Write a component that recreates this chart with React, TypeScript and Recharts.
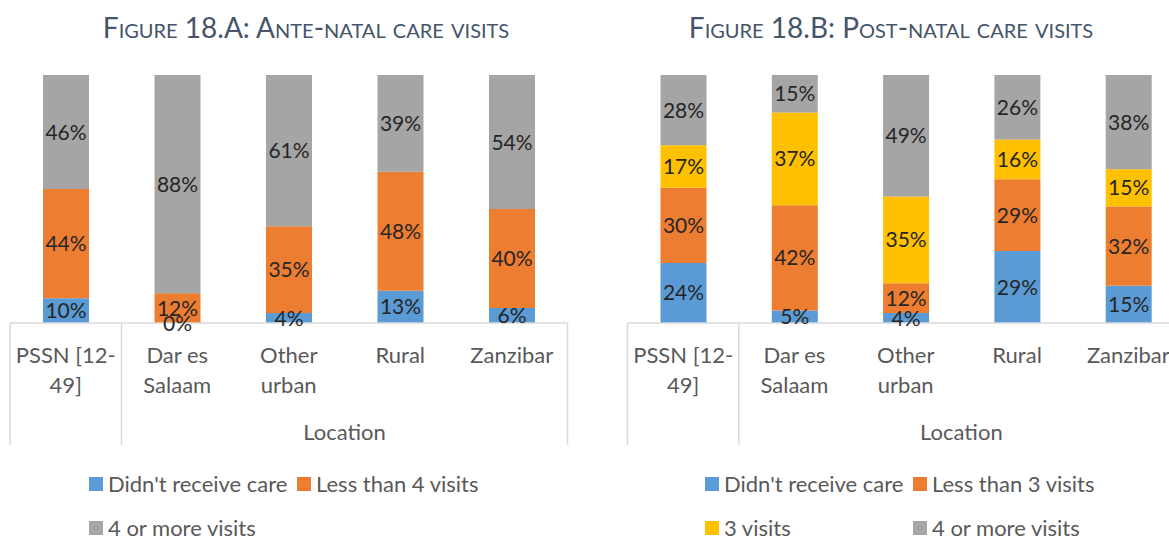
import { BarChart, Bar, XAxis, YAxis, LabelList } from 'recharts';

const locations = ['PSSN [12-\n49]', 'Dar es\nSalaam', 'Other\nurban', 'Rural', 'Zanzibar'];

// Figure 18.A - ante-natal
const ancNoCare = [10, 0, 4, 13, 6];
const ancUnder4 = [44, 12, 35, 48, 40];
const anc4Plus = [46, 88, 61, 39, 54];

// Figure 18.B - post-natal
const pncNoCare = [24, 5, 4, 29, 15];
const pncUnder3 = [30, 42, 12, 29, 32];
const pnc3 = [17, 37, 35, 16, 15];
const pnc4Plus = [28, 15, 49, 26, 38];

const BLUE = '#5B9BD5';
const ORANGE = '#ED7D31';
const YELLOW = '#FFC000';
const GREY = '#A5A5A5';
const FONT = 'Lato, "Open Sans", sans-serif';
const LABEL_COLOR = '#262626';

const ancData = locations.map((loc, i) => ({
    loc, none: ancNoCare[i], under: ancUnder4[i], plus: anc4Plus[i]
}));
const pncData = locations.map((loc, i) => ({
    loc, none: pncNoCare[i], under: pncUnder3[i], three: pnc3[i], plus: pnc4Plus[i]
}));

type Series = { key: string; name: string; color: string };

const ancSeries: Series[] = [
    { key: 'none', name: "Didn't receive care", color: BLUE },
    { key: 'under', name: 'Less than 4 visits', color: ORANGE },
    { key: 'plus', name: '4 or more visits', color: GREY },
];
const pncSeries: Series[] = [
    { key: 'none', name: "Didn't receive care", color: BLUE },
    { key: 'under', name: 'Less than 3 visits', color: ORANGE },
    { key: 'three', name: '3 visits', color: YELLOW },
    { key: 'plus', name: '4 or more visits', color: GREY },
];

const LocationTick = (props: any) => {
    const { x, y, payload, index, band, count } = props;
    const lines = String(payload.value).split('\n');
    const h = 122;
    const stroke = '#D9D9D9';
    return (
        <g>
            {lines.map((l: string, k: number) => (
                <text key={k} x={x} y={y + 40 + k * 30} textAnchor="middle"
                    fill="#595959" fontSize={22} fontFamily={FONT}>{l}</text>
            ))}
            {index === 0 && (
                <>
                    <line x1={x - band / 2} x2={x - band / 2} y1={y} y2={y + h} stroke={stroke} strokeWidth={1.5} />
                    <line x1={x + band / 2} x2={x + band / 2} y1={y} y2={y + h} stroke={stroke} strokeWidth={1.5} />
                    <text x={x + band * 2.5} y={y + 117} textAnchor="middle"
                        fill="#595959" fontSize={22} fontFamily={FONT}>Location</text>
                </>
            )}
            {index === count - 1 && (
                <line x1={x + band / 2} x2={x + band / 2} y1={y} y2={y + h} stroke={stroke} strokeWidth={1.5} />
            )}
        </g>
    );
};

// label for a segment; the segment above the base also shows a 0% base value
// (zero-height bars get no label of their own)
const SegmentLabel = (props: any) => {
    const { x, y, width, height, value, index, data, showZeroBelow } = props;
    const cx = x + width / 2;
    const zero = showZeroBelow && data[index] && data[index].none === 0;
    return (
        <g>
            <text x={cx} y={y + height / 2} dy="0.36em" textAnchor="middle"
                fill={LABEL_COLOR} fontSize={21} fontFamily={FONT}>{`${value}%`}</text>
            {zero && (
                <text x={cx} y={y + height} dy="0.36em" textAnchor="middle"
                    fill={LABEL_COLOR} fontSize={21} fontFamily={FONT}>{`${data[index].none}%`}</text>
            )}
        </g>
    );
};

interface StackProps {
    data: any[];
    series: Series[];
    width: number;
    left: number;
    right: number;
}

const StackChart = ({ data, series, width, left, right }: StackProps) => {
    const band = (width - left - right) / data.length;
    return (
        <BarChart width={width} height={538} data={data} stackOffset="expand"
            margin={{ top: 75, right, left, bottom: 185 }} barSize={46}>
            <XAxis dataKey="loc" interval={0} tickLine={false} tickSize={0} tickMargin={0} height={30}
                axisLine={{ stroke: '#D9D9D9', strokeWidth: 1.5 }}
                tick={(p: any) => <LocationTick {...p} band={band} count={data.length} />} />
            <YAxis hide domain={[0, 1]} />
            {series.map((s) => (
                <Bar key={s.key} dataKey={s.key} name={s.name} stackId="a" fill={s.color} isAnimationActive={false}>
                    <LabelList dataKey={s.key}
                        content={(p: any) => <SegmentLabel {...p} data={data} showZeroBelow={s.key === 'under'} />} />
                </Bar>
            ))}
        </BarChart>
    );
};

const LegendItem = ({ x, y, s }: { x: number; y: number; s: Series }) => (
    <div style={{ position: 'absolute', left: x, top: y - 10, height: 20, display: 'flex', alignItems: 'center' }}>
        <div style={{ width: 14, height: 14, background: s.color, marginRight: 5 }} />
        <span style={{ fontSize: 22, lineHeight: '20px', color: '#595959', whiteSpace: 'nowrap' }}>{s.name}</span>
    </div>
);

const Title = ({ cx, text }: { cx: number; text: string }) => (
    <div style={{
        position: 'absolute', left: cx - 300, width: 600, top: 9, textAlign: 'center',
        fontVariant: 'small-caps', fontSize: 28, lineHeight: '36px', color: '#44546A', whiteSpace: 'nowrap'
    }}>{text}</div>
);

export default function App() {
    return (
        <div style={{
            position: 'fixed', left: 0, top: 0, width: 1169, height: 538, overflow: 'hidden',
            background: '#fff', fontFamily: FONT
        }}>
            <div style={{ position: 'absolute', left: 0, top: 0 }}>
                <StackChart data={ancData} series={ancSeries} width={600} left={10} right={32.5} />
            </div>
            <div style={{ position: 'absolute', left: 600, top: 0 }}>
                <StackChart data={pncData} series={pncSeries} width={600} left={27.5} right={16} />
            </div>
            <Title cx={306} text="Figure 18.A: Ante-natal care visits" />
            <Title cx={891} text="Figure 18.B: Post-natal care visits" />
            <LegendItem x={89} y={484} s={ancSeries[0]} />
            <LegendItem x={297} y={484} s={ancSeries[1]} />
            <LegendItem x={89} y={528} s={ancSeries[2]} />
            <LegendItem x={705} y={484} s={pncSeries[0]} />
            <LegendItem x={913} y={484} s={pncSeries[1]} />
            <LegendItem x={705} y={528} s={pncSeries[2]} />
            <LegendItem x={913} y={528} s={pncSeries[3]} />
        </div>
    );
}
